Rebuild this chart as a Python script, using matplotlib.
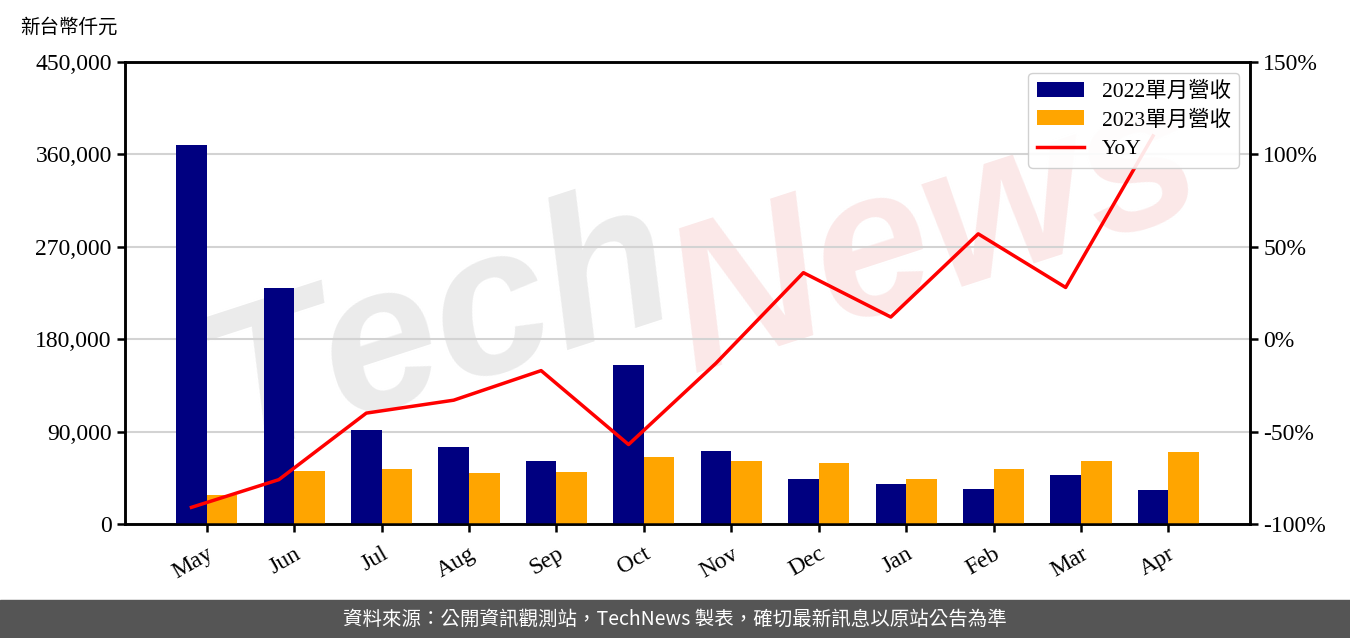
import matplotlib
matplotlib.use("Agg")
import matplotlib.pyplot as plt
import numpy as np
from matplotlib.ticker import FuncFormatter, MultipleLocator

# 資料
months = ["May", "Jun", "Jul", "Aug", "Sep", "Oct", "Nov", "Dec", "Jan", "Feb", "Mar", "Apr"]
rev_2022 = [369000, 230000, 91500, 75000, 61400, 154900, 71100, 43800, 39000, 34100, 47700, 33100]
rev_2023 = [28200, 51600, 53600, 49700, 50700, 65300, 61400, 59400, 43800, 53600, 61400, 70100]
yoy = [-91, -76, -40, -33, -17, -57, -13, 36, 12, 57, 28, 110]

plt.rcParams['font.family'] = ['Liberation Serif', 'Noto Sans CJK TC', 'DejaVu Sans']

fig = plt.figure(figsize=(13.5, 6.38), dpi=100)
ax = fig.add_axes([0.0926, 0.1787, 0.8334, 0.7241])
ax2 = ax.twinx()

x = np.arange(len(months))
w = 0.35

# 浮水印
ax.text(0.28, 0.42, "Tech", transform=ax.transAxes, fontsize=150, color="#ebebeb",
        rotation=18, ha="center", va="center", family="Liberation Sans",
        fontweight="bold", fontstyle="italic", zorder=0)
ax.text(0.72, 0.62, "News", transform=ax.transAxes, fontsize=150, color="#fbe8e8",
        rotation=18, ha="center", va="center", family="Liberation Sans",
        fontweight="bold", fontstyle="italic", zorder=0)

b1 = ax.bar(x - w / 2, rev_2022, w, color="#000080", label="2022單月營收", zorder=3)
b2 = ax.bar(x + w / 2, rev_2023, w, color="#ffa500", label="2023單月營收", zorder=3)

ax.set_ylim(0, 450000)
ax.yaxis.set_major_locator(MultipleLocator(90000))
ax.yaxis.set_major_formatter(FuncFormatter(lambda v, p: f"{int(v):,}"))
ax.grid(axis="y", color="#d3d3d3", linewidth=1.5, zorder=1)
ax.set_axisbelow(True)
ax.set_xticks(x)
ax.set_xticklabels(months, rotation=30, ha="right", rotation_mode="anchor")

ln, = ax2.plot(x - w / 2, yoy, color="red", linewidth=2.5, label="YoY", zorder=4)
ax2.set_ylim(-100, 150)
ax2.yaxis.set_major_locator(MultipleLocator(50))
ax2.yaxis.set_major_formatter(FuncFormatter(lambda v, p: f"{int(v)}%"))

for a in (ax, ax2):
    for s in a.spines.values():
        s.set_linewidth(1.8)
    a.tick_params(labelsize=17, width=1.8, length=6)

ax.tick_params(axis="x", pad=8)

leg = ax2.legend(handles=[b1, b2, ln], loc="upper right", fontsize=15.5,
                 handlelength=2.2, labelspacing=0.4, framealpha=0.9,
                 edgecolor="#cccccc")

# 標題單位
fig.text(0.015, 0.957, "新台幣仟元", fontsize=14, ha="left", va="center",
         family=["Noto Sans CJK TC"])

# 底部來源列
fig.patches.append(plt.Rectangle((0, 0), 1, 0.0596, transform=fig.transFigure,
                                 color="#555555", zorder=0))
fig.text(0.5, 0.0298, "資料來源：公開資訊觀測站，TechNews 製表，確切最新訊息以原站公告為準",
         fontsize=14, color="white", ha="center", va="center",
         family=["Noto Sans CJK TC"])

fig.savefig("out.png", dpi=100)
